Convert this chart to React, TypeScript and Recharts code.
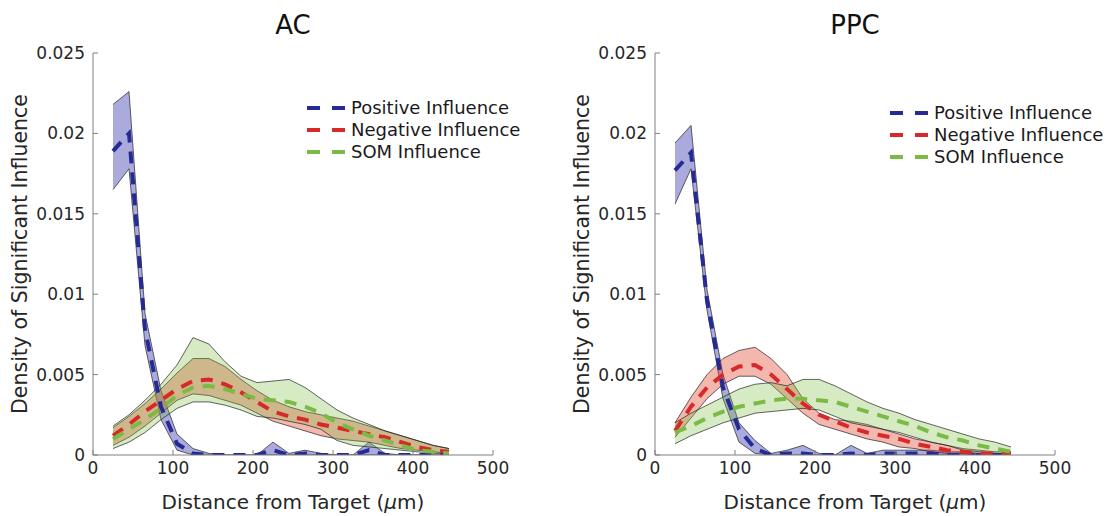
import { ComposedChart, Area, Line, XAxis, YAxis, Legend } from "recharts";

// distance bins (µm)
const distance = [25, 45, 65, 85, 105, 125, 145, 165, 185, 205, 225, 245, 265, 285, 305, 325, 345, 365, 385, 405, 425, 445];

const xTicks = [0, 100, 200, 300, 400, 500];
const yTicks = [0, 0.005, 0.01, 0.015, 0.02, 0.025];

// AC
const acPosMean = [0.0189, 0.02, 0.0078, 0.003, 0.0007, 0.0001, 0, 0, 0, 0, 0.0003, 0, 0.0001, 0, 0, 0, 0.0003, 0, 0, 0, 0, 0];
const acPosHi = [0.0218, 0.0226, 0.0088, 0.004, 0.0013, 0.0004, 0.0001, 0, 0, 0, 0.0008, 0.0001, 0.0003, 0.0001, 0, 0, 0.0008, 0.0001, 0, 0, 0, 0];
const acPosLo = [0.0165, 0.0178, 0.0068, 0.0022, 0.0003, 0, 0, 0, 0, 0, 0, 0, 0, 0, 0, 0, 0, 0, 0, 0, 0, 0];

const acNegMean = [0.0012, 0.0019, 0.0027, 0.0034, 0.0041, 0.0046, 0.0047, 0.0044, 0.0039, 0.0033, 0.0027, 0.0024, 0.0022, 0.0019, 0.0017, 0.0015, 0.0013, 0.0011, 0.0008, 0.0005, 0.0003, 0.0002];
const acNegHi = [0.0017, 0.0024, 0.0032, 0.0041, 0.0051, 0.006, 0.006, 0.0055, 0.0047, 0.004, 0.0034, 0.003, 0.0027, 0.0025, 0.0023, 0.0021, 0.0018, 0.0015, 0.0012, 0.0009, 0.0006, 0.0004];
const acNegLo = [0.0006, 0.0011, 0.0018, 0.0026, 0.0034, 0.0038, 0.0037, 0.0034, 0.0031, 0.0026, 0.0021, 0.0018, 0.0015, 0.0012, 0.001, 0.0009, 0.0008, 0.0006, 0.0004, 0.0003, 0.0002, 0.0001];

const acSomMean = [0.001, 0.0016, 0.0022, 0.0029, 0.0037, 0.0042, 0.0043, 0.0041, 0.0038, 0.0035, 0.0034, 0.0033, 0.003, 0.0026, 0.002, 0.0016, 0.0012, 0.0009, 0.0006, 0.0003, 0.0002, 0.0001];
const acSomHi = [0.0018, 0.0025, 0.0034, 0.0044, 0.0056, 0.0073, 0.0069, 0.0058, 0.0049, 0.0045, 0.0046, 0.0047, 0.0042, 0.0035, 0.0028, 0.0023, 0.0019, 0.0015, 0.0012, 0.0009, 0.0006, 0.0004];
const acSomLo = [0.0004, 0.0008, 0.0014, 0.0022, 0.0029, 0.0033, 0.0033, 0.0031, 0.0028, 0.0024, 0.0023, 0.0021, 0.0019, 0.0016, 0.0009, 0.0006, 0.0005, 0.0004, 0.0003, 0.0002, 0.0001, 0.0001];

// PPC
const ppcPosMean = [0.0177, 0.0188, 0.0096, 0.0042, 0.0016, 0.0004, 0, 0.0001, 0.0001, 0, 0, 0.0001, 0, 0.0001, 0.0001, 0.0001, 0.0001, 0, 0, 0, 0, 0];
const ppcPosHi = [0.0194, 0.0205, 0.0103, 0.005, 0.002, 0.0009, 0.0001, 0.0003, 0.0006, 0.0001, 0, 0.0006, 0.0001, 0.0003, 0.0003, 0.0003, 0.0003, 0.0002, 0.0002, 0.0001, 0.0001, 0.0001];
const ppcPosLo = [0.0156, 0.0178, 0.009, 0.0035, 0.0008, 0.0001, 0, 0, 0, 0, 0, 0, 0, 0, 0, 0, 0, 0, 0, 0, 0, 0];

const ppcNegMean = [0.0015, 0.003, 0.0042, 0.005, 0.0055, 0.0056, 0.005, 0.0041, 0.0032, 0.0025, 0.0021, 0.0017, 0.0014, 0.0012, 0.001, 0.0007, 0.0005, 0.0003, 0.0002, 0.0001, 0.0001, 0.0001];
const ppcNegHi = [0.002, 0.0036, 0.005, 0.006, 0.0065, 0.0067, 0.006, 0.005, 0.0035, 0.0026, 0.0022, 0.0021, 0.0019, 0.0016, 0.0013, 0.001, 0.0008, 0.0006, 0.0004, 0.0003, 0.0002, 0.0002];
const ppcNegLo = [0.0011, 0.0023, 0.0035, 0.0044, 0.0049, 0.0049, 0.0044, 0.0035, 0.0026, 0.0019, 0.0016, 0.0013, 0.001, 0.0008, 0.0005, 0.0004, 0.0002, 0.0001, 0.0001, 0, 0, 0];

const ppcSomMean = [0.0014, 0.0018, 0.0023, 0.0027, 0.003, 0.0032, 0.0034, 0.0035, 0.0035, 0.0034, 0.0033, 0.003, 0.0027, 0.0024, 0.0021, 0.0018, 0.0014, 0.0011, 0.0009, 0.0006, 0.0004, 0.0002];
const ppcSomHi = [0.002, 0.0026, 0.0031, 0.0036, 0.0041, 0.0044, 0.0045, 0.0043, 0.0047, 0.0047, 0.0043, 0.0038, 0.0033, 0.0029, 0.0026, 0.0022, 0.0019, 0.0016, 0.0013, 0.001, 0.0008, 0.0005];
const ppcSomLo = [0.0007, 0.0012, 0.0016, 0.002, 0.0023, 0.0026, 0.0027, 0.0028, 0.0029, 0.0028, 0.0024, 0.002, 0.0018, 0.0016, 0.0014, 0.0011, 0.0008, 0.0006, 0.0003, 0.0002, 0.0001, 0];

const FONT = "DejaVu Sans";
const BLUE = "#252a94";
const RED = "#d62a2a";
const GREEN = "#7bbb45";

const seriesNames = ["Positive Influence", "Negative Influence", "SOM Influence"];
const seriesColors = [BLUE, RED, GREEN];

function buildRows(
  posMean: number[], posLo: number[], posHi: number[],
  negMean: number[], negLo: number[], negHi: number[],
  somMean: number[], somLo: number[], somHi: number[]
) {
  return distance.map((x, i) => ({
    x,
    posMean: posMean[i],
    posBand: [posLo[i], posHi[i]],
    negMean: negMean[i],
    negBand: [negLo[i], negHi[i]],
    somMean: somMean[i],
    somBand: [somLo[i], somHi[i]],
  }));
}

const acRows = buildRows(acPosMean, acPosLo, acPosHi, acNegMean, acNegLo, acNegHi, acSomMean, acSomLo, acSomHi);
const ppcRows = buildRows(ppcPosMean, ppcPosLo, ppcPosHi, ppcNegMean, ppcNegLo, ppcNegHi, ppcSomMean, ppcSomLo, ppcSomHi);

// ticks point inward, like the matlab figure
const YTick = (p: any) => (
  <g>
    <line x1={p.x} x2={p.x + 5} y1={p.y} y2={p.y} stroke="#808080" />
    <text x={p.x - 8} y={p.y} dy={6} textAnchor="end" fontFamily={FONT} fontSize={17} fill="#262626">
      {String(p.payload.value)}
    </text>
  </g>
);

const XTick = (p: any) => (
  <g>
    <line x1={p.x} x2={p.x} y1={p.y} y2={p.y - 5} stroke="#808080" />
    <text x={p.x} y={p.y + 19} textAnchor="middle" fontFamily={FONT} fontSize={17} fill="#262626">
      {String(p.payload.value)}
    </text>
  </g>
);

const XTitle = (p: any) => {
  const vb = p.viewBox;
  return (
    <text x={vb.x + vb.width / 2} y={vb.y + 54} textAnchor="middle" fontFamily={FONT} fontSize={20} fill="#262626">
      Distance from Target (<tspan fontStyle="italic">μ</tspan>m)
    </text>
  );
};

const YTitle = (p: any) => {
  const vb = p.viewBox;
  const cx = vb.x + vb.width - 66;
  const cy = vb.y + vb.height / 2;
  return (
    <text x={cx} y={cy} transform={`rotate(-90 ${cx} ${cy})`} textAnchor="middle" fontFamily={FONT} fontSize={20.5} fill="#262626">
      Density of Significant Influence
    </text>
  );
};

const LegendBox = () => (
  <div style={{ fontFamily: FONT, fontSize: 18, color: "#1a1a1a" }}>
    {seriesNames.map((name, i) => (
      <div key={name} style={{ display: "flex", alignItems: "center", height: 22 }}>
        <svg width={44} height={10}>
          <line x1={0} x2={40} y1={5} y2={5} stroke={seriesColors[i]} strokeWidth={4} strokeDasharray="13 12" />
        </svg>
        <span style={{ lineHeight: "22px" }}>{name}</span>
      </div>
    ))}
  </div>
);

const Panel = ({ title, rows, marginLeft, legendLeft, legendTop }: any) => {
  const plotLeft = marginLeft + 60;
  return (
    <div style={{ position: "relative", width: 560, height: 516 }}>
      <div style={{ position: "absolute", left: plotLeft, width: 400, top: 10, textAlign: "center", fontFamily: FONT, fontSize: 26, color: "#111" }}>
        {title}
      </div>
      <ComposedChart
        width={560}
        height={516}
        data={rows}
        margin={{ top: 53, right: 560 - plotLeft - 400, bottom: 31, left: marginLeft }}
      >
        <XAxis
          dataKey="x"
          type="number"
          domain={[0, 500]}
          ticks={xTicks}
          height={30}
          tickSize={0}
          tickMargin={0}
          tickLine={false}
          stroke="#808080"
          tick={(p: any) => <XTick {...p} />}
          label={{ content: (p: any) => <XTitle {...p} /> }}
        />
        <YAxis
          type="number"
          domain={[0, 0.025]}
          ticks={yTicks}
          width={60}
          tickSize={0}
          tickMargin={0}
          tickLine={false}
          stroke="#808080"
          allowDataOverflow
          tick={(p: any) => <YTick {...p} />}
          label={{ content: (p: any) => <YTitle {...p} /> }}
        />
        <Area type="linear" dataKey="posBand" fill="#2a2aa8" fillOpacity={0.4} stroke="#222" strokeWidth={0.7} isAnimationActive={false} />
        <Line type="linear" dataKey="posMean" stroke={BLUE} strokeWidth={4} strokeDasharray="12 9" dot={false} isAnimationActive={false} />
        <Area type="linear" dataKey="negBand" fill="#e34b32" fillOpacity={0.4} stroke="#222" strokeWidth={0.7} isAnimationActive={false} />
        <Line type="linear" dataKey="negMean" stroke={RED} strokeWidth={4} strokeDasharray="12 9" dot={false} isAnimationActive={false} />
        <Area type="linear" dataKey="somBand" fill="#78b83a" fillOpacity={0.3} stroke="#222" strokeWidth={0.7} isAnimationActive={false} />
        <Line type="linear" dataKey="somMean" stroke={GREEN} strokeWidth={4} strokeDasharray="12 9" dot={false} isAnimationActive={false} />
        <Legend
          layout="vertical"
          align="center"
          verticalAlign="middle"
          content={() => <LegendBox />}
          wrapperStyle={{ position: "absolute", left: legendLeft, top: legendTop, width: 240 }}
        />
      </ComposedChart>
    </div>
  );
};

export default function App() {
  return (
    <div style={{ position: "absolute", left: 0, top: 0, width: 1106, height: 516, display: "flex", background: "#fff" }}>
      <Panel title="AC" rows={acRows} marginLeft={33} legendLeft={307} legendTop={97} />
      <Panel title="PPC" rows={ppcRows} marginLeft={35} legendLeft={330} legendTop={102} />
    </div>
  );
}
